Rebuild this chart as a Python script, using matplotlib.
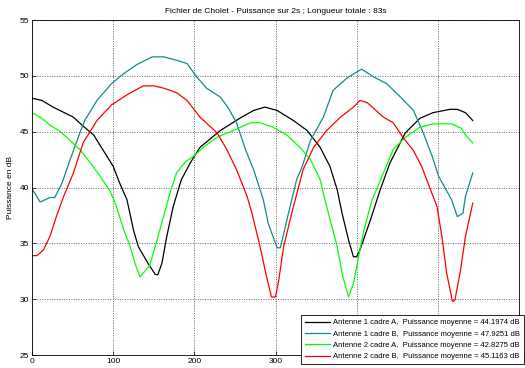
"""
Fichier de Cholet : puissance des quatre voies (2 antennes x 2 cadres),
moyennée sur 2 s, tracé style MATLAB.
"""
import matplotlib
matplotlib.use("Agg")
import matplotlib.pyplot as plt

plt.rcParams["font.family"] = ["Liberation Sans", "DejaVu Sans"]

# ---- valeurs (échantillon, dB) ----
a1a_x = [0, 12, 26, 51, 63, 76, 88, 100, 108, 117, 125, 131, 139, 143, 152, 155, 160,
         166, 174, 184, 195, 207, 232, 256, 273, 287, 302, 322, 339, 355, 367, 376,
         382, 390, 396, 400, 404, 417, 429, 441, 460, 478, 494, 515, 524, 534, 543]
a1a_y = [48.0, 47.8, 47.2, 46.3, 45.5, 44.7, 43.3, 41.9, 40.4, 38.9, 36.2, 34.7, 33.7,
         33.2, 32.2, 32.2, 33.2, 35.6, 38.3, 40.7, 42.2, 43.6, 45.1, 46.2, 46.9, 47.2,
         46.9, 46.0, 45.1, 43.6, 41.9, 39.8, 37.7, 35.3, 33.8, 33.8, 34.4, 37.1, 39.8,
         42.2, 44.9, 46.2, 46.7, 47.0, 47.0, 46.7, 46.0]

a1b_x = [0, 10, 22, 28, 37, 47, 59, 65, 80, 98, 113, 129, 148, 162, 178, 191, 203, 215,
         232, 242, 252, 263, 273, 285, 291, 302, 306, 316, 326, 333, 343, 359, 371, 388,
         406, 421, 437, 454, 470, 482, 493, 501, 517, 524, 531, 534, 543]
a1b_y = [39.9, 38.7, 39.1, 39.1, 40.4, 42.5, 44.9, 46.0, 47.8, 49.3, 50.2, 51.0, 51.7,
         51.7, 51.4, 51.1, 49.9, 48.9, 48.1, 47.1, 45.8, 43.4, 41.6, 38.9, 36.8, 34.6,
         34.6, 37.7, 40.7, 41.9, 44.2, 46.3, 48.7, 49.8, 50.6, 49.9, 49.3, 48.1, 46.9,
         44.9, 42.8, 41.0, 38.9, 37.4, 37.7, 39.2, 41.3]

a2a_x = [0, 10, 22, 35, 47, 59, 72, 84, 96, 104, 113, 121, 127, 133, 139, 145, 154, 162,
         170, 178, 189, 199, 211, 228, 248, 269, 281, 297, 314, 330, 343, 355, 363, 376,
         383, 390, 396, 404, 409, 419, 433, 445, 460, 478, 494, 517, 529, 534, 543]
a2a_y = [46.7, 46.3, 45.6, 45.0, 44.2, 43.4, 42.2, 41.0, 39.7, 38.3, 36.2, 34.7, 33.2,
         32.0, 32.5, 33.0, 35.3, 37.4, 39.5, 41.3, 42.3, 42.8, 43.6, 44.5, 45.1, 45.8,
         45.8, 45.4, 44.7, 43.6, 42.5, 40.7, 38.3, 34.7, 32.0, 30.2, 31.4, 34.4, 36.2,
         38.9, 41.3, 43.4, 44.5, 45.4, 45.7, 45.7, 45.3, 44.7, 44.0]

a2b_x = [0, 6, 14, 22, 30, 39, 51, 63, 80, 98, 117, 137, 150, 162, 178, 191, 207, 228,
         240, 252, 265, 271, 281, 289, 295, 300, 304, 310, 320, 334, 347, 363, 380, 396,
         404, 413, 433, 445, 457, 470, 480, 491, 499, 505, 511, 518, 521, 528, 534, 543]
a2b_y = [33.9, 33.9, 34.4, 35.6, 37.4, 39.2, 41.3, 44.0, 46.0, 47.4, 48.3, 49.1, 49.1,
         48.9, 48.5, 47.8, 46.3, 44.9, 43.4, 41.6, 39.2, 37.7, 34.7, 32.0, 30.2, 30.2,
         31.7, 34.7, 37.7, 41.6, 43.6, 45.1, 46.3, 47.2, 47.8, 47.6, 46.3, 45.8, 44.5,
         43.3, 41.9, 39.8, 38.3, 35.6, 32.3, 29.8, 29.9, 32.6, 35.6, 38.6]

labels = [
    "Antenne 1 cadre A,  Puissance moyenne = 44.1974 dB",
    "Antenne 1 cadre B,  Puissance moyenne = 47.9251 dB",
    "Antenne 2 cadre A,  Puissance moyenne = 42.8275 dB",
    "Antenne 2 cadre B,  Puissance moyenne = 45.1163 dB",
]
colors = ["black", "#138b8b", "#00ff00", "#ff0000"]

fig = plt.figure(figsize=(5.25, 3.68), dpi=100)
ax = fig.add_axes([32 / 525, 13 / 368, 487 / 525, 335 / 368])

series = [(a1a_x, a1a_y), (a1b_x, a1b_y), (a2a_x, a2a_y), (a2b_x, a2b_y)]
for (xs, ys), c, lab in zip(series, colors, labels):
    ax.plot(xs, ys, color=c, lw=0.9, label=lab)

ax.set_xlim(0, 600)
ax.set_ylim(25, 55)
ax.set_xticks(range(0, 601, 100))
ax.set_yticks(range(25, 56, 5))
ax.tick_params(direction="in", length=3, width=0.5, labelsize=6, pad=2)
ax.grid(True, color="0.2", ls=(0, (1.5, 2)), lw=0.5)
for s in ax.spines.values():
    s.set_linewidth(0.6)

ax.set_title("Fichier de Cholet - Puissance sur 2s ; Longueur totale : 83s",
             fontsize=6, pad=5)
ax.set_ylabel("Puissance en dB", fontsize=6, labelpad=4)

leg = ax.legend(loc="lower right", bbox_to_anchor=(524 / 525, 4 / 368),
                bbox_transform=fig.transFigure, fontsize=5.5, frameon=True,
                fancybox=False, handlelength=3.3, handletextpad=0.4,
                labelspacing=0.52, borderpad=0.5, borderaxespad=0)
leg.get_frame().set_edgecolor("black")
leg.get_frame().set_linewidth(0.6)
leg.get_frame().set_alpha(1)
leg.set_zorder(10)

fig.savefig("out.png", dpi=100)
plt.close(fig)
